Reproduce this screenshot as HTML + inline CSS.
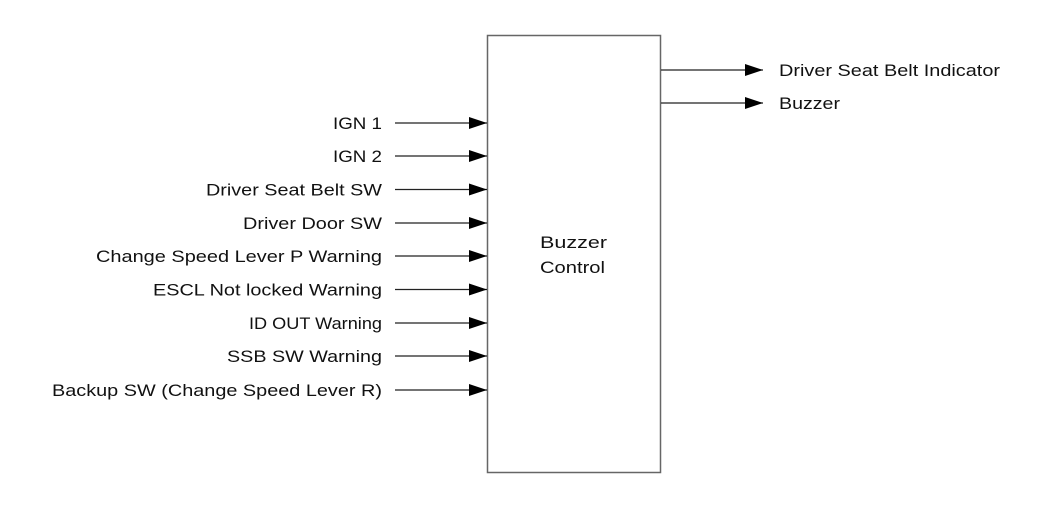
<!DOCTYPE html>
<html><head><style>
body{margin:0;background:#fff;}
svg text{font-family:"Liberation Sans",Arial,sans-serif;font-size:17px;fill:#111;}
</style></head><body>
<svg width="1050" height="508" viewBox="0 0 1050 508" xmlns="http://www.w3.org/2000/svg">
<defs><marker id="a" markerWidth="18" markerHeight="12" refX="18" refY="6" orient="auto" markerUnits="userSpaceOnUse"><path d="M0,0 L18,6 L0,12 z" fill="#000"/></marker></defs>
<rect x="487.5" y="35.5" width="173" height="437" fill="#fff" stroke="#666" stroke-width="1.5"/>
<text x="540" y="248" textLength="67" lengthAdjust="spacingAndGlyphs">Buzzer</text>
<text x="540" y="273" textLength="65" lengthAdjust="spacingAndGlyphs">Control</text>
<g stroke="#222" stroke-width="1.2" marker-end="url(#a)">
<line x1="395" y1="123" x2="487" y2="123"/>
<line x1="395" y1="156" x2="487" y2="156"/>
<line x1="395" y1="189.5" x2="487" y2="189.5"/>
<line x1="395" y1="223" x2="487" y2="223"/>
<line x1="395" y1="256" x2="487" y2="256"/>
<line x1="395" y1="289.5" x2="487" y2="289.5"/>
<line x1="395" y1="323" x2="487" y2="323"/>
<line x1="395" y1="356" x2="487" y2="356"/>
<line x1="395" y1="390" x2="487" y2="390"/>
<line x1="661" y1="70" x2="763" y2="70"/>
<line x1="661" y1="103" x2="763" y2="103"/>
</g>
<g lengthAdjust="spacingAndGlyphs">
<text x="333" y="129" textLength="49" lengthAdjust="spacingAndGlyphs">IGN 1</text>
<text x="333" y="162" textLength="49" lengthAdjust="spacingAndGlyphs">IGN 2</text>
<text x="206" y="195.5" textLength="176" lengthAdjust="spacingAndGlyphs">Driver Seat Belt SW</text>
<text x="243" y="229" textLength="139" lengthAdjust="spacingAndGlyphs">Driver Door SW</text>
<text x="96" y="262" textLength="286" lengthAdjust="spacingAndGlyphs">Change Speed Lever P Warning</text>
<text x="153" y="295.5" textLength="229" lengthAdjust="spacingAndGlyphs">ESCL Not locked Warning</text>
<text x="249" y="329" textLength="133" lengthAdjust="spacingAndGlyphs">ID OUT Warning</text>
<text x="227" y="362" textLength="155" lengthAdjust="spacingAndGlyphs">SSB SW Warning</text>
<text x="52" y="396" textLength="330" lengthAdjust="spacingAndGlyphs">Backup SW (Change Speed Lever R)</text>
</g>
<text x="779" y="76" textLength="221" lengthAdjust="spacingAndGlyphs">Driver Seat Belt Indicator</text>
<text x="779" y="109" textLength="61" lengthAdjust="spacingAndGlyphs">Buzzer</text>
</svg>
</body></html>
